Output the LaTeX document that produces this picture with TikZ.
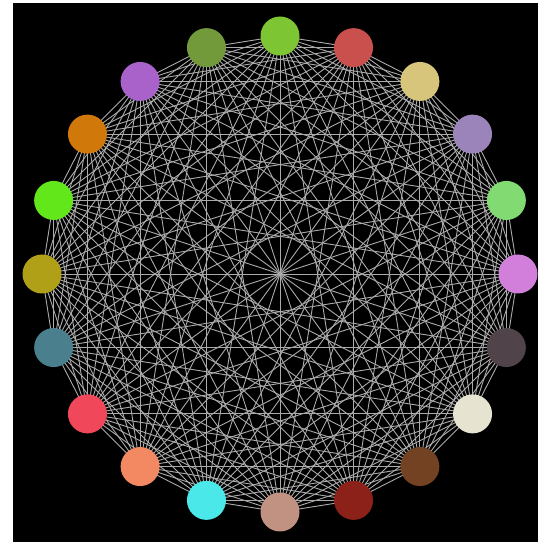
\documentclass[tikz,border=0pt]{standalone}
\usetikzlibrary{backgrounds}
\definecolor{c0}{HTML}{7DC532}
\definecolor{c1}{HTML}{C9504C}
\definecolor{c2}{HTML}{D6C57B}
\definecolor{c3}{HTML}{9A84BA}
\definecolor{c4}{HTML}{82DA72}
\definecolor{c5}{HTML}{D27FDB}
\definecolor{c6}{HTML}{50434A}
\definecolor{c7}{HTML}{E6E3D0}
\definecolor{c8}{HTML}{724222}
\definecolor{c9}{HTML}{8C2119}
\definecolor{c10}{HTML}{C19282}
\definecolor{c11}{HTML}{4AE8E8}
\definecolor{c12}{HTML}{F28962}
\definecolor{c13}{HTML}{F0485A}
\definecolor{c14}{HTML}{4A808E}
\definecolor{c15}{HTML}{B0A018}
\definecolor{c16}{HTML}{62E81A}
\definecolor{c17}{HTML}{D0790A}
\definecolor{c18}{HTML}{A962C9}
\definecolor{c19}{HTML}{729A3A}
\definecolor{edgegray}{HTML}{ABABAB}
\begin{document}
\begin{tikzpicture}[x=1pt,y=1pt,
  vtx/.style={circle,minimum size=39pt,inner sep=0pt,draw=none},
  edge/.style={draw=edgegray,line width=0.9pt}]
\useasboundingbox (0,0) rectangle (538,542);
\foreach \c [count=\i from 0] in {c0,c1,c2,c3,c4,c5,c6,c7,c8,c9,c10,c11,c12,c13,c14,c15,c16,c17,c18,c19}{
  \node[vtx,fill=\c] (n\i) at ({280+238*cos(90-18*\i)},{268+238*sin(90-18*\i)}) {};
}
\begin{pgfonlayer}{background}
\fill[white] (0,0) rectangle (538,542);
\fill[black] (13,0) rectangle (538,539);
\foreach \i in {0,...,18}{
  \pgfmathtruncatemacro\s{\i+1}
  \foreach \j in {\s,...,19}{
    \draw[edge] (n\i.center) -- (n\j.center);
  }
}
\end{pgfonlayer}
\end{tikzpicture}
\end{document}
